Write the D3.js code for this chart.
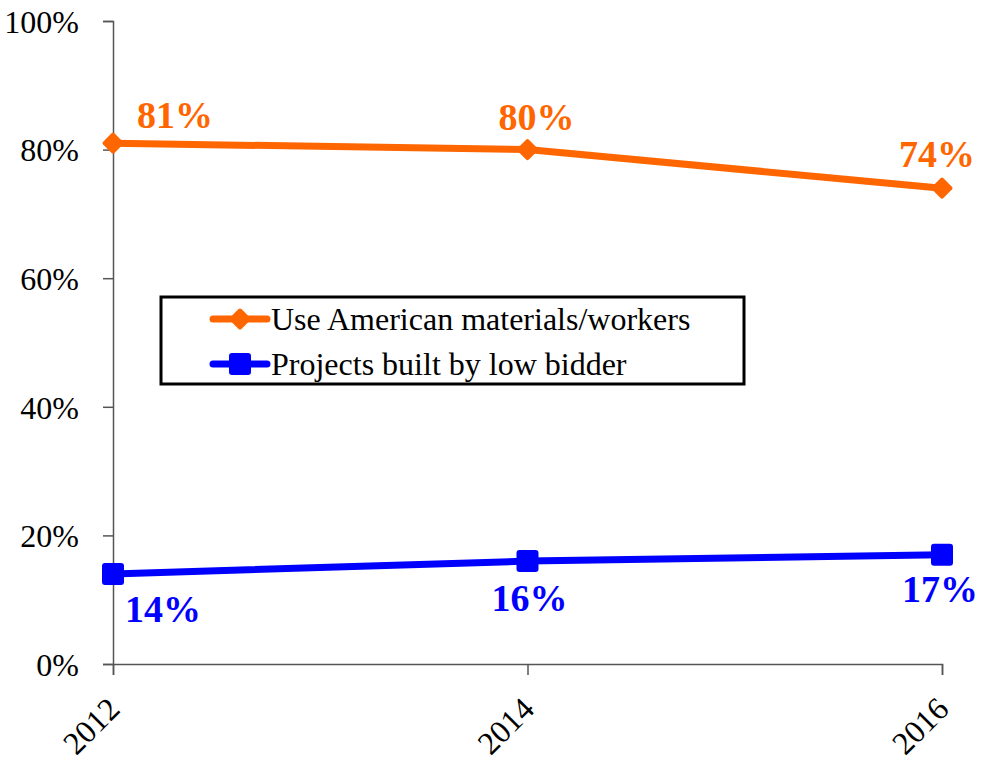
<!DOCTYPE html>
<html>
<head>
<meta charset="utf-8">
<script src="https://cdn.jsdelivr.net/npm/d3@7"></script>
<style>
  body { margin: 0; background: #fff; }
  svg { display: block; }
</style>
</head>
<body>
<svg id="chart" width="990" height="764" font-family="Liberation Serif"></svg>
<script>
// data
var years = ["2012", "2014", "2016"];
var american = [0.81, 0.80, 0.74];
var lowBidder = [0.14, 0.16, 0.17];
var seriesNames = ["Use American materials/workers", "Projects built by low bidder"];
var yTicks = [0, 0.2, 0.4, 0.6, 0.8, 1.0];

var FONT = "Liberation Serif";
var orange = "#ff6600";
var blue = "#0000ff";

var svg = d3.select("#chart");
var margin = {top: 21, right: 48, bottom: 100, left: 113};
var width = +svg.attr("width");
var height = +svg.attr("height");

var x = d3.scalePoint()
    .domain(years)
    .range([margin.left, width - margin.right]);

var y = d3.scaleLinear()
    .domain([0, 1])
    .range([height - margin.bottom, margin.top]);

// axes
var gy = svg.append("g")
    .attr("transform", "translate(" + margin.left + ",0)")
    .call(d3.axisLeft(y).tickValues(yTicks).tickSize(10).tickPadding(24)
        .tickFormat(d3.format(".0%")));

var gx = svg.append("g")
    .attr("transform", "translate(0," + y(0) + ")")
    .call(d3.axisBottom(x).tickSize(11).tickPadding(0));

[gy, gx].forEach(function(g) {
    g.attr("font-family", FONT).attr("font-size", 32);
    g.select(".domain").attr("stroke", "#555").attr("stroke-width", 1.5);
    g.selectAll(".tick line").attr("stroke", "#555").attr("stroke-width", 1.5);
    g.selectAll("text").attr("fill", "#000");
});
gy.selectAll("text").attr("dy", "0.35em");

gx.selectAll(".tick text")
    .attr("text-anchor", "end")
    .attr("dy", null)
    .attr("y", 0)
    .attr("transform", "translate(8,47) rotate(-45)");

// lines
var line = d3.line()
    .x(function(d, i) { return x(years[i]); })
    .y(function(d) { return y(d); });

function drawSeries(values, color, marker, labelPos) {
    svg.append("path")
        .datum(values)
        .attr("fill", "none")
        .attr("stroke", color)
        .attr("stroke-width", 7)
        .attr("d", line);

    var pts = svg.append("g").selectAll("g")
        .data(values)
        .enter().append("g")
        .attr("transform", function(d, i) { return "translate(" + x(years[i]) + "," + y(d) + ")"; });
    marker(pts, color);

    svg.append("g").selectAll("text")
        .data(values)
        .enter().append("text")
        .attr("x", function(d, i) { return x(years[i]) + labelPos[i][0]; })
        .attr("y", function(d, i) { return y(d) + labelPos[i][1]; })
        .attr("text-anchor", "middle")
        .attr("fill", color)
        .attr("font-family", FONT)
        .attr("font-weight", "bold")
        .attr("font-size", 38)
        .text(function(d) { return d3.format(".0%")(d); });
}

function diamond(sel, color) {
    sel.append("rect")
        .attr("x", -8).attr("y", -8)
        .attr("width", 16).attr("height", 16)
        .attr("rx", 2)
        .attr("transform", "rotate(45)")
        .attr("fill", color);
}

function square(sel, color) {
    sel.append("rect")
        .attr("x", -11).attr("y", -11)
        .attr("width", 22).attr("height", 22)
        .attr("rx", 3)
        .attr("fill", color);
}

drawSeries(american, orange, diamond, [[62, -15], [9, -20], [-5, -21]]);
drawSeries(lowBidder, blue, square, [[50, 48], [2, 50], [-2, 47]]);

// legend
var legend = svg.append("g");
legend.append("rect")
    .attr("x", 161).attr("y", 297)
    .attr("width", 583).attr("height", 87)
    .attr("fill", "#fff")
    .attr("stroke", "#000")
    .attr("stroke-width", 3);

var legendItems = legend.selectAll("g.item")
    .data(seriesNames)
    .enter().append("g")
    .attr("class", "item")
    .attr("transform", function(d, i) { return "translate(240," + (319 + i * 45) + ")"; });

legendItems.append("line")
    .attr("x1", -27).attr("x2", 27)
    .attr("stroke", function(d, i) { return i === 0 ? orange : blue; })
    .attr("stroke-width", 7)
    .attr("stroke-linecap", "round");

legendItems.each(function(d, i) {
    var g = d3.select(this);
    if (i === 0) diamond(g, orange); else square(g, blue);
});

legendItems.append("text")
    .attr("x", 31)
    .attr("dy", "0.33em")
    .attr("font-family", FONT)
    .attr("font-size", 32)
    .attr("fill", "#000")
    .text(function(d) { return d; });
</script>
</body>
</html>
